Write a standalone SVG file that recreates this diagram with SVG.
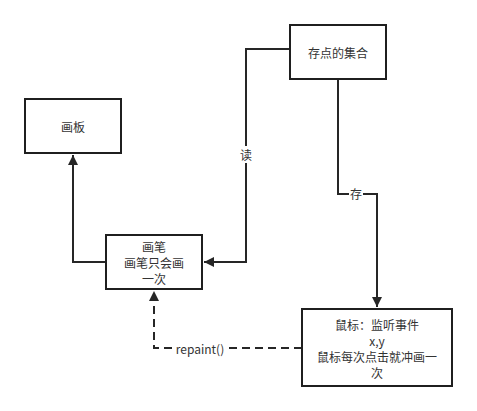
<svg xmlns="http://www.w3.org/2000/svg" width="477" height="411" viewBox="0 0 477 411">
<style>
.box{fill:#fff;stroke:#1f1f1f;stroke-width:2}
.ln{fill:none;stroke:#262626;stroke-width:2}
.dash{stroke-dasharray:8 5}
text{font-family:"Noto Sans CJK SC","Liberation Sans",sans-serif;font-size:12px;fill:#333;text-anchor:middle;dominant-baseline:central}
.lbl{fill:#fff;stroke:none}
</style>
<defs>
<marker id="ah" viewBox="0 0 10 10" refX="10" refY="5" markerWidth="5.5" markerHeight="5" orient="auto" markerUnits="strokeWidth">
<path d="M0,0 L10,5 L0,10 Z" fill="#262626"/>
</marker>
</defs>
<g id="connectors">
<path class="ln" d="M106,262 H73 V155" marker-end="url(#ah)"/>
<path class="ln" d="M290,49 H246 V262 H204" marker-end="url(#ah)"/>
<path class="ln" d="M338,79 V194 H377 V307" marker-end="url(#ah)"/>
<path class="ln dash" d="M302,348 H154 V291" marker-end="url(#ah)"/>
<rect class="lbl" x="239" y="146" width="14" height="17"/>
<text x="246" y="154">读</text>
<rect class="lbl" x="349" y="185" width="14" height="17"/>
<text x="356" y="193">存</text>
<rect class="lbl" x="174" y="340" width="52" height="16"/>
<text x="200" y="348">repaint()</text>
</g>
<g id="huaban">
<rect class="box" x="25" y="99" width="96" height="54"/>
<text x="73" y="126">画板</text>
</g>
<g id="cundian">
<rect class="box" x="290" y="25" width="96" height="54"/>
<text x="338" y="52">存点的集合</text>
</g>
<g id="huabi">
<rect class="box" x="106" y="235" width="96" height="54"/>
<text x="154" y="246">画笔</text>
<text x="154" y="262">画笔只会画</text>
<text x="154" y="278">一次</text>
</g>
<g id="shubiao">
<rect class="box" x="302" y="309" width="150" height="77"/>
<text x="377" y="324">鼠标：监听事件</text>
<text x="377" y="340">x,y</text>
<text x="377" y="356">鼠标每次点击就冲画一</text>
<text x="377" y="372">次</text>
</g>
</svg>
